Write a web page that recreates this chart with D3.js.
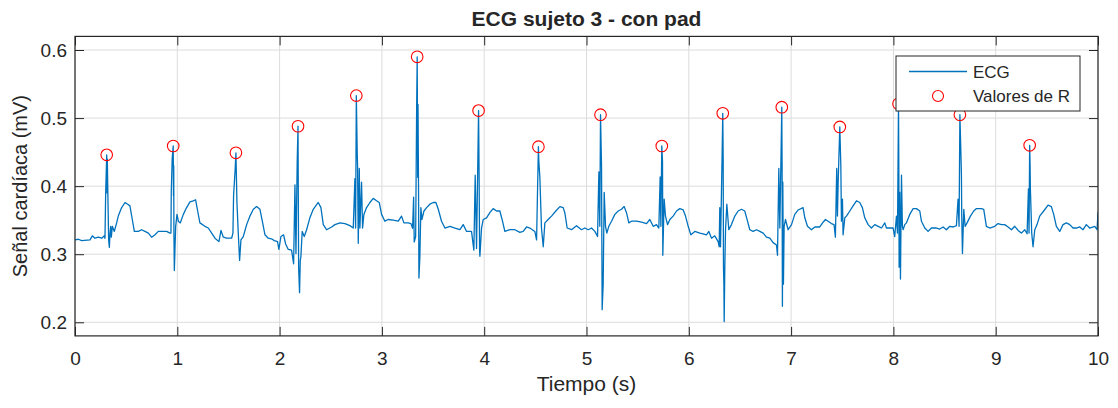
<!DOCTYPE html>
<html>
<head>
<meta charset="utf-8">
<script src="https://cdn.jsdelivr.net/npm/d3@7/dist/d3.min.js"></script>
<style>
  html, body { margin: 0; padding: 0; background: #ffffff; }
  svg text { font-family: "Liberation Sans", Arial, Helvetica, sans-serif; fill: #262626; }
</style>
</head>
<body>
<div id="chart"></div>
<script>
// ECG sampled from the figure: [tiempo (s), señal (mV)]
var ecg = [
  [0.000,0.321],[0.033,0.322],[0.065,0.320],[0.147,0.321],[0.169,0.327],[0.195,0.3235],[0.228,0.325],[0.261,0.3235],[0.287,0.327],[0.293,0.3235],
  [0.300,0.391],[0.310,0.446],[0.314,0.390],[0.316,0.440],[0.322,0.381],[0.329,0.321],[0.336,0.310],[0.342,0.331],[0.349,0.341],[0.355,0.325],[0.365,0.341],[0.384,0.3335],[0.407,0.346],[0.423,0.356],[0.456,0.3685],[0.489,0.376],[0.515,0.3735],[0.537,0.371],[0.560,0.351],[0.580,0.3335],[0.619,0.3335],[0.651,0.336],[0.684,0.3335],[0.717,0.331],[0.749,0.325],[0.782,0.3285],[0.814,0.3335],[0.847,0.3335],[0.896,0.3335],[0.928,0.331],
  [0.938,0.331],[0.941,0.391],[0.950,0.440],[0.960,0.459],[0.963,0.386],[0.965,0.430],[0.967,0.331],[0.971,0.276],[0.984,0.341],[0.997,0.3585],[1.010,0.3485],[1.029,0.346],[1.059,0.3585],[1.091,0.3685],[1.124,0.377],[1.156,0.3785],[1.179,0.380],[1.199,0.3635],[1.221,0.346],[1.270,0.341],[1.303,0.3385],[1.336,0.331],[1.368,0.3235],[1.407,0.3185],[1.427,0.335],[1.450,0.325],[1.482,0.3235],[1.531,0.3235],
  [1.544,0.331],[1.550,0.386],[1.566,0.426],[1.573,0.449],[1.583,0.376],[1.596,0.331],[1.609,0.291],[1.622,0.321],[1.645,0.326],[1.678,0.3435],[1.710,0.356],[1.743,0.366],[1.775,0.370],[1.808,0.366],[1.831,0.3485],[1.857,0.3285],[1.889,0.3235],[1.928,0.322],[1.948,0.320],[1.980,0.3185],[1.993,0.307],[2.013,0.326],[2.039,0.3285],[2.059,0.315],[2.085,0.307],[2.117,0.306],
  [2.137,0.286],[2.150,0.402],[2.160,0.301],[2.172,0.436],[2.180,0.488],[2.183,0.381],[2.186,0.281],[2.195,0.2435],[2.202,0.291],[2.208,0.296],[2.221,0.3335],[2.241,0.326],[2.264,0.336],[2.296,0.3535],[2.329,0.366],[2.378,0.376],[2.404,0.3685],[2.427,0.3435],[2.459,0.336],[2.508,0.340],[2.541,0.3435],[2.590,0.346],[2.639,0.345],[2.687,0.342],[2.720,0.3385],
  [2.736,0.411],[2.743,0.3385],[2.750,0.533],[2.759,0.446],[2.762,0.431],[2.769,0.316],[2.779,0.426],[2.785,0.3385],[2.801,0.406],[2.811,0.3385],[2.824,0.3585],[2.850,0.3685],[2.883,0.376],[2.915,0.382],[2.948,0.3785],[2.974,0.376],[2.997,0.3585],[3.029,0.3485],[3.062,0.351],[3.111,0.350],[3.160,0.3485],[3.192,0.356],[3.215,0.346],[3.257,0.346],[3.284,0.345],
  [3.300,0.338],[3.310,0.384],[3.316,0.318],[3.330,0.326],[3.340,0.520],[3.345,0.590],[3.350,0.413],[3.353,0.520],[3.358,0.400],[3.362,0.265],[3.371,0.296],[3.381,0.3685],[3.391,0.351],[3.411,0.3635],[3.437,0.3685],[3.469,0.3735],[3.502,0.376],[3.528,0.376],[3.551,0.366],[3.583,0.3485],[3.616,0.3385],[3.665,0.341],[3.714,0.3385],[3.762,0.336],[3.795,0.3435],[3.828,0.3335],[3.876,0.3335],
  [3.899,0.306],[3.912,0.416],[3.925,0.3085],[3.938,0.440],[3.945,0.511],[3.950,0.420],[3.955,0.306],[3.958,0.297],[3.974,0.3385],[3.990,0.351],[4.023,0.3535],[4.055,0.361],[4.088,0.367],[4.121,0.3635],[4.153,0.3635],[4.179,0.3485],[4.202,0.3335],[4.251,0.336],[4.300,0.336],[4.349,0.332],[4.381,0.3335],[4.414,0.340],[4.446,0.3385],[4.495,0.3335],
  [4.512,0.321],[4.521,0.391],[4.530,0.458],[4.534,0.436],[4.544,0.4135],[4.560,0.3385],[4.577,0.311],[4.593,0.346],[4.625,0.351],[4.658,0.356],[4.700,0.3635],[4.740,0.370],[4.772,0.3685],[4.788,0.361],[4.811,0.3385],[4.854,0.336],[4.902,0.342],[4.951,0.336],[4.984,0.3385],[5.017,0.336],[5.049,0.3385],[5.082,0.3335],[5.108,0.326],
  [5.121,0.421],[5.130,0.341],[5.137,0.505],[5.147,0.4285],[5.153,0.2185],[5.163,0.256],[5.173,0.391],[5.186,0.341],[5.199,0.331],[5.218,0.341],[5.245,0.3485],[5.277,0.3585],[5.310,0.3635],[5.342,0.366],[5.368,0.370],[5.391,0.361],[5.414,0.346],[5.440,0.3485],[5.489,0.3485],[5.538,0.347],[5.587,0.345],[5.619,0.351],[5.652,0.341],[5.684,0.3435],[5.707,0.3385],
  [5.720,0.4135],[5.727,0.341],[5.736,0.459],[5.743,0.436],[5.746,0.2985],[5.759,0.381],[5.772,0.356],[5.792,0.3435],[5.815,0.351],[5.847,0.356],[5.880,0.3635],[5.912,0.367],[5.945,0.365],[5.968,0.356],[5.994,0.341],[6.020,0.3285],[6.059,0.3335],[6.108,0.331],[6.140,0.330],[6.173,0.3285],[6.196,0.3335],[6.222,0.3235],[6.254,0.327],[6.287,0.3185],
  [6.297,0.311],[6.303,0.3685],[6.310,0.311],[6.325,0.440],[6.332,0.507],[6.336,0.441],[6.339,0.281],[6.343,0.256],[6.346,0.201],[6.352,0.281],[6.359,0.336],[6.372,0.3735],[6.391,0.336],[6.417,0.3435],[6.450,0.356],[6.482,0.3635],[6.515,0.366],[6.547,0.3635],[6.574,0.3485],[6.596,0.336],[6.629,0.3335],[6.662,0.336],[6.694,0.3335],[6.727,0.331],[6.759,0.325],[6.792,0.3235],[6.824,0.317],[6.857,0.3135],
  [6.867,0.2985],[6.880,0.426],[6.890,0.3385],[6.909,0.516],[6.912,0.431],[6.915,0.2235],[6.919,0.406],[6.925,0.256],[6.932,0.341],[6.945,0.351],[6.971,0.336],[7.004,0.3435],[7.036,0.3585],[7.069,0.365],[7.117,0.3685],[7.134,0.3535],[7.160,0.341],[7.199,0.336],[7.232,0.340],[7.280,0.340],[7.313,0.347],[7.336,0.351],[7.362,0.3485],[7.394,0.345],[7.420,0.3435],
  [7.433,0.325],[7.446,0.426],[7.453,0.356],[7.460,0.406],[7.476,0.487],[7.486,0.431],[7.492,0.3485],[7.502,0.381],[7.508,0.3285],[7.525,0.3535],[7.541,0.356],[7.574,0.3635],[7.606,0.371],[7.639,0.3785],[7.671,0.376],[7.697,0.3685],[7.720,0.3535],[7.753,0.3435],[7.785,0.3385],[7.818,0.3435],[7.851,0.341],[7.883,0.3385],[7.916,0.346],[7.932,0.3385],[7.965,0.3385],[7.997,0.3385],
  [8.013,0.326],[8.030,0.356],[8.040,0.331],[8.050,0.521],[8.053,0.431],[8.056,0.281],[8.062,0.391],[8.069,0.2635],[8.079,0.416],[8.088,0.341],[8.095,0.336],[8.111,0.3435],[8.127,0.346],[8.160,0.3585],[8.193,0.367],[8.225,0.367],[8.258,0.3635],[8.274,0.3485],[8.307,0.3385],[8.339,0.3335],[8.372,0.3385],[8.421,0.3385],[8.453,0.337],[8.486,0.340],[8.518,0.336],[8.551,0.341],[8.584,0.340],[8.616,0.342],
  [8.632,0.381],[8.642,0.341],[8.650,0.505],[8.662,0.436],[8.665,0.416],[8.668,0.356],[8.675,0.301],[8.688,0.366],[8.701,0.341],[8.720,0.346],[8.753,0.356],[8.785,0.3635],[8.812,0.367],[8.860,0.367],[8.883,0.366],[8.909,0.341],[8.942,0.3385],[8.991,0.341],[9.023,0.345],[9.056,0.3435],[9.088,0.3435],[9.121,0.340],[9.154,0.336],[9.186,0.341],[9.219,0.335],[9.251,0.331],[9.284,0.336],[9.307,0.330],
  [9.320,0.396],[9.326,0.331],[9.332,0.460],[9.336,0.431],[9.339,0.396],[9.352,0.331],[9.365,0.311],[9.382,0.336],[9.404,0.3435],[9.430,0.356],[9.469,0.3635],[9.512,0.372],[9.544,0.370],[9.567,0.3585],[9.593,0.341],[9.626,0.3335],[9.658,0.3435],[9.691,0.346],[9.724,0.3435],[9.756,0.3385],[9.789,0.3385],[9.821,0.340],[9.854,0.336],[9.886,0.3435],[9.919,0.3385],[9.968,0.341],[9.991,0.336],[10.000,0.362]
];

// picos R detectados
var rTiempo = [0.310, 0.960, 1.573, 2.180, 2.750, 3.345, 3.945, 4.530, 5.137, 5.736, 6.332, 6.909, 7.476, 8.050, 8.650, 9.332];
var rValor  = [0.446, 0.459, 0.449, 0.488, 0.533, 0.590, 0.511, 0.458, 0.505, 0.459, 0.507, 0.516, 0.487, 0.521, 0.505, 0.460];

var xTicks = [0, 1, 2, 3, 4, 5, 6, 7, 8, 9, 10];
var yTicks = [0.2, 0.3, 0.4, 0.5, 0.6];

function drawEcg(selector){
  var width = 1118, height = 408;
  var mLeft = 75, mRight = 1098, mTop = 36.4, mBottom = 335.9;
  var lineColor = "#0072BD";

  var svg = d3.select(selector)
    .append("svg")
    .attr("width", width)
    .attr("height", height)

  var x = d3.scaleLinear().domain([0, 10]).range([mLeft, mRight]);
  var y = d3.scaleLinear().domain([0.18, 0.62]).range([mBottom, mTop]);

  // grid
  var grid = svg.append("g").attr("class", "grid")
  grid.selectAll(".gx")
    .data(xTicks).enter().append("line")
      .attr("x1", function(d){ return x(d) }).attr("x2", function(d){ return x(d) })
      .attr("y1", mTop).attr("y2", mBottom)
      .attr("stroke", "#dcdcdc").attr("stroke-width", 1)
  grid.selectAll(".gy")
    .data(yTicks).enter().append("line")
      .attr("x1", mLeft).attr("x2", mRight)
      .attr("y1", function(d){ return y(d) }).attr("y2", function(d){ return y(d) })
      .attr("stroke", "#dcdcdc").attr("stroke-width", 1)

  svg.append("clipPath").attr("id", "plot-area")
    .append("rect").attr("x", mLeft).attr("y", mTop).attr("width", mRight - mLeft).attr("height", mBottom - mTop)

  var line = d3.line()
    .x(function(d){ return x(d[0]) })
    .y(function(d){ return y(d[1]) })

  svg.append("path")
    .datum(ecg)
    .attr("clip-path", "url(#plot-area)")
    .attr("d", line)
    .attr("fill", "none")
    .attr("stroke", lineColor)
    .attr("stroke-width", 1.3)
    .attr("stroke-linejoin", "round")

  svg.append("g").selectAll("circle")
    .data(rTiempo).enter().append("circle")
      .attr("cx", function(d){ return x(d) })
      .attr("cy", function(d, i){ return y(rValor[i]) })
      .attr("r", 5.8)
      .attr("fill", "none")
      .attr("stroke", "#ff0000")
      .attr("stroke-width", 1.1)

  // axes, inward ticks on every side like MATLAB "box on"
  var fmtY = d3.format(".1f");
  var axB = svg.append("g").attr("transform", "translate(0," + mBottom + ")")
    .call(d3.axisBottom(x).tickValues(xTicks).tickFormat(d3.format("d")).tickSizeInner(-9).tickSizeOuter(0).tickPadding(16))
  var axT = svg.append("g").attr("transform", "translate(0," + mTop + ")")
    .call(d3.axisTop(x).tickValues(xTicks).tickFormat("").tickSizeInner(-9).tickSizeOuter(0))
  var axL = svg.append("g").attr("transform", "translate(" + mLeft + ",0)")
    .call(d3.axisLeft(y).tickValues(yTicks).tickFormat(fmtY).tickSizeInner(-9).tickSizeOuter(0).tickPadding(8))
  var axR = svg.append("g").attr("transform", "translate(" + mRight + ",0)")
    .call(d3.axisRight(y).tickValues(yTicks).tickFormat("").tickSizeInner(-9).tickSizeOuter(0))

  ;[axB, axT, axL, axR].forEach(function(a){
    a.select(".domain").remove()
    a.selectAll(".tick line").attr("stroke", "#262626").attr("stroke-width", 1)
    a.selectAll(".tick text").style("font-size", "19px").attr("fill", "#404040")
  })

  svg.append("rect")
    .attr("x", mLeft).attr("y", mTop)
    .attr("width", mRight - mLeft).attr("height", mBottom - mTop)
    .attr("fill", "none").attr("stroke", "#262626").attr("stroke-width", 1.2)

  // títulos
  svg.append("text")
    .attr("x", (mLeft + mRight) / 2).attr("y", 26)
    .attr("text-anchor", "middle")
    .style("font-size", "21px").style("font-weight", "bold")
    .text("ECG sujeto 3 - con pad")

  svg.append("text")
    .attr("x", (mLeft + mRight) / 2).attr("y", 391)
    .attr("text-anchor", "middle")
    .style("font-size", "21px").attr("fill", "#404040")
    .text("Tiempo (s)")

  svg.append("text")
    .attr("transform", "translate(27," + ((mTop + mBottom) / 2) + ") rotate(-90)")
    .attr("text-anchor", "middle")
    .style("font-size", "20px").attr("fill", "#404040")
    .text("Señal cardíaca (mV)")

  // leyenda
  var lg = svg.append("g").attr("transform", "translate(896,56)")
  lg.append("rect")
    .attr("width", 184).attr("height", 55)
    .attr("fill", "#ffffff").attr("stroke", "#262626").attr("stroke-width", 1)
  lg.append("line")
    .attr("x1", 13).attr("x2", 71).attr("y1", 15.5).attr("y2", 15.5)
    .attr("stroke", lineColor).attr("stroke-width", 1.3)
  lg.append("circle")
    .attr("cx", 42).attr("cy", 40).attr("r", 5.5)
    .attr("fill", "none").attr("stroke", "#ff0000").attr("stroke-width", 1.1)
  lg.append("text").attr("x", 77).attr("y", 22).style("font-size", "17px").attr("fill", "#262626").text("ECG")
  lg.append("text").attr("x", 77).attr("y", 46).style("font-size", "17px").attr("fill", "#262626").text("Valores de R")
}

drawEcg("#chart")
</script>
</body>
</html>
